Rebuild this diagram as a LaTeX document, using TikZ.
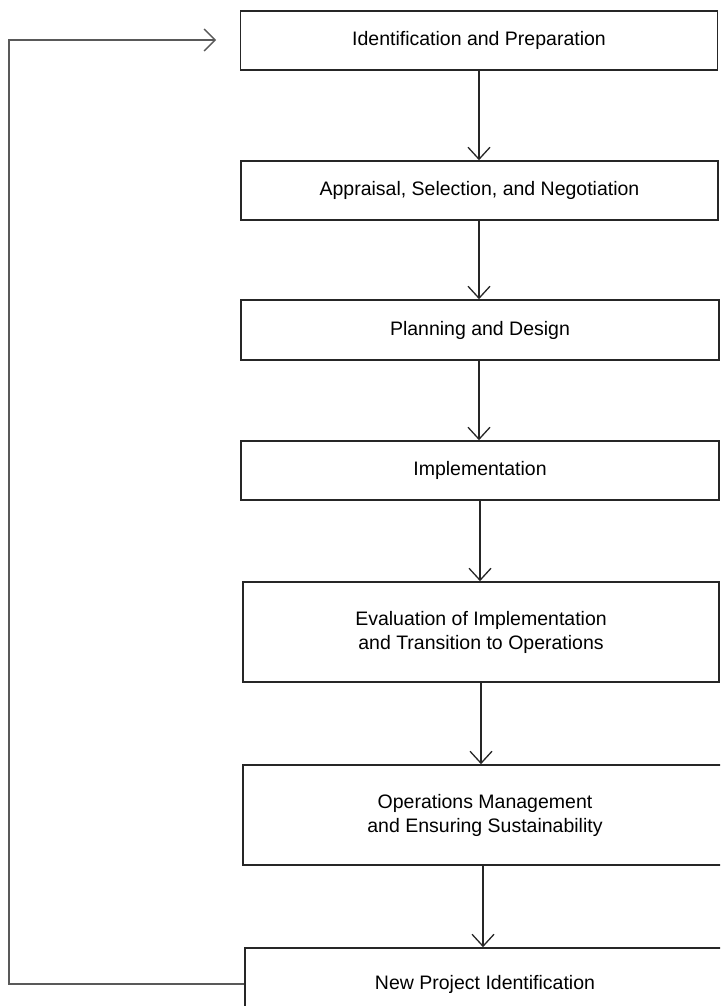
\documentclass[tikz,border=0pt]{standalone}
\usepackage{fontspec}
\setmainfont{Liberation Sans}
\usetikzlibrary{arrows.meta}
\tikzset{
  stage/.style={draw=black!85, line width=1.6pt, fill=white, align=center,
    font=\fontsize{19.5}{24}\selectfont, inner sep=0pt},
  flow/.style={draw=black!85, line width=1.3pt,
    -{Straight Barb[length=12pt, width=22pt, line width=1.3pt]}},
  back/.style={draw=black!65, line width=1.3pt,
    -{Straight Barb[length=11pt, width=22pt, line width=1.3pt]}}
}
\begin{document}
\begin{tikzpicture}[x=1pt, y=-1pt]
  \path[use as bounding box] (0,0) rectangle (720,1006);
  \clip (0,0) rectangle (720,1006);
  \fill[white] (0,0) rectangle (720,1006);

  % process stages
  \node[stage, minimum width=477pt, minimum height=59pt]  (s1) at (479,40.5) {Identification and Preparation};
  \node[stage, minimum width=477pt, minimum height=59pt]  (s2) at (479.5,190.5) {Appraisal, Selection, and Negotiation};
  \node[stage, minimum width=478pt, minimum height=60pt]  (s3) at (480,330) {Planning and Design};
  \node[stage, minimum width=478pt, minimum height=59pt]  (s4) at (480,470.5) {Implementation};
  \node[stage, minimum width=476pt, minimum height=100pt] (s5) at (481,632) {Evaluation of Implementation\\and Transition to Operations};
  \node[stage, minimum width=484pt, minimum height=100pt] (s6) at (485,815) {Operations Management\\and Ensuring Sustainability};
  \node[stage, minimum width=480pt, minimum height=72pt]  (s7) at (485,984) {New Project Identification};

  % forward flow
  \draw[flow] (s1.south -| 479,0) -- (s2.north -| 479,0);
  \draw[flow] (s2.south -| 479,0) -- (s3.north -| 479,0);
  \draw[flow] (s3.south -| 479,0) -- (s4.north -| 479,0);
  \draw[flow] (s4.south -| 480,0) -- (s5.north -| 480,0);
  \draw[flow] (s5.south -| 481,0) -- (s6.north -| 481,0);
  \draw[flow] (s6.south -| 483,0) -- (s7.north -| 483,0);

  % feedback loop back to the first stage
  \coordinate (ret) at (9,0);
  \coordinate (entry) at (216,40);
  \draw[back] (s7.west) -| (ret |- entry) -- (entry);
\end{tikzpicture}
\end{document}
